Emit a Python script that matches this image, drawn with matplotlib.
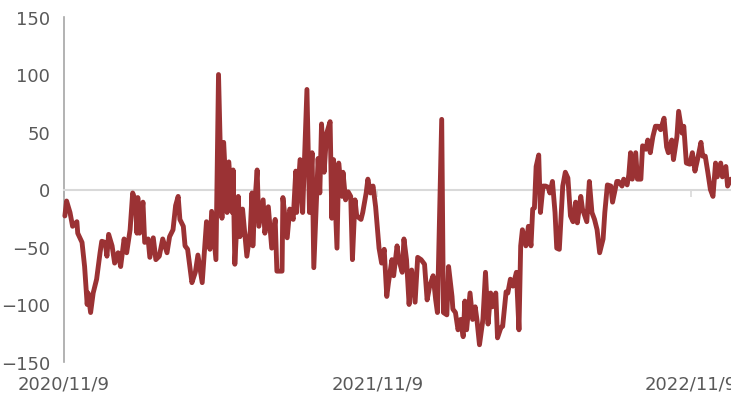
import matplotlib
matplotlib.use("Agg")
import matplotlib.pyplot as plt
import pandas as pd

# days since 2020/11/9 and the series value
DAYS = [
    1, 3, 7, 10, 15, 16, 21, 24, 27, 28, 31, 34, 38, 42, 44, 48, 50, 52, 56, 59,
    63, 66, 70, 73, 77, 80, 83, 85, 86, 88, 92, 94, 98, 100, 104, 107, 111, 115, 120, 123,
    127, 130, 133, 135, 139, 141, 144, 149, 153, 156, 161, 166, 170, 172, 177, 180, 184, 186, 190, 192,
    196, 197, 199, 203, 205, 208, 213, 217, 219, 220, 222, 225, 227, 232, 234, 238, 242, 246, 248, 254,
    255, 260, 263, 267, 270, 271, 275, 278, 283, 286, 289, 291, 296, 298, 300, 303, 306, 310, 312, 314,
    318, 320, 324, 325, 328, 331, 334, 336, 339, 341, 346, 348, 352, 354, 357, 360, 363, 367, 370, 373,
    376, 378, 382, 384, 388, 390, 394, 396, 399, 402, 405, 409, 412, 416, 420, 423, 426, 430, 433, 435,
    440, 442, 446, 448, 452, 453, 456, 459, 462, 465, 467, 469, 473, 476, 479, 481, 484, 488, 491, 494,
    497, 499, 503, 505, 509, 511, 515, 517, 520, 523, 527, 530, 532, 534, 538, 541, 544, 546, 548, 550,
    553, 555, 558, 561, 564, 566, 569, 572, 574, 577, 581, 584, 587, 590, 593, 596, 598, 602, 604, 609,
    612, 615, 618, 621, 624, 628, 630, 633, 637, 639, 644, 646, 650, 652, 656, 658, 660, 662, 666, 668,
    672, 674, 678, 680, 683, 686, 689, 692, 695, 699, 702, 704, 708, 710, 714, 716, 720, 722, 725, 729,
    732, 735, 738, 742, 744, 747, 750, 753, 756, 759, 761, 765, 767, 771, 773, 777,
]
VALUES = [
    -23, -10, -20, -32, -28, -38, -46, -67, -100, -90, -107, -90, -78, -55, -45, -46, -58, -39, -49, -64,
    -55, -67, -43, -55, -35, -3, -9, -38, -7, -38, -11, -46, -43, -59, -42, -61, -58, -43, -55, -41,
    -35, -14, -6, -26, -32, -49, -52, -81, -72, -57, -81, -28, -52, -19, -61, 100, -25, 41, -20, 24,
    -20, 17, -65, -6, -41, -17, -58, -36, -3, -49, -15, 17, -32, -9, -38, -15, -51, -26, -71, -71,
    -7, -42, -17, -26, 16, -20, 26, -20, 87, -20, 32, -68, 27, -3, 57, 15, 49, 59, -25, 26,
    -51, 23, -6, 15, -9, -2, -6, -61, -9, -23, -26, -20, -3, 9, -3, 3, -15, -51, -64, -52,
    -93, -81, -61, -75, -49, -61, -72, -43, -61, -100, -70, -98, -59, -61, -65, -96, -84, -75, -96, -107,
    61, -107, -109, -67, -93, -104, -107, -122, -113, -128, -97, -122, -90, -113, -102, -113, -135, -113, -72, -117,
    -90, -102, -90, -129, -120, -119, -89, -90, -78, -84, -72, -122, -49, -35, -49, -32, -49, -17, -16, 20,
    30, -20, 3, 3, 2, -3, 7, -20, -51, -52, 3, 15, 10, -23, -28, -11, -29, -6, -17, -28,
    7, -20, -26, -35, -55, -43, -20, 4, 3, -11, 7, 7, 3, 9, 4, 13, 32, 9, 32, 9,
    9, 38, 35, 43, 32, 46, 55, 55, 52, 62, 37, 32, 43, 26, 46, 68, 49, 55, 23, 22,
    32, 16, 26, 41, 29, 29, 15, 0, -6, 23, 11, 23, 11, 20, 3, 9,
]

START = pd.Timestamp("2020-11-09")
END_DAY = 777
TICK_DATES = ["2020-11-09", "2021-11-09", "2022-11-09"]
TICK_LABELS = ["2020/11/9", "2021/11/9", "2022/11/9"]
Y_TICKS = [-150, -100, -50, 0, 50, 100, 150]

LINE_COLOR = "#9B3234"
TEXT_COLOR = "#595959"

dates = START + pd.to_timedelta(DAYS, unit="D")

fig = plt.figure(figsize=(7.31, 4.10), dpi=100)
ax = fig.add_axes([64 / 731, 47 / 410, 1 - 64 / 731, 345 / 410])

ax.plot(dates, VALUES, color=LINE_COLOR, lw=3.5, solid_joinstyle="round",
        solid_capstyle="round", clip_on=False, zorder=3)

ax.set_xlim(START, START + pd.Timedelta(days=END_DAY))
ax.set_ylim(-150, 150)
ax.set_yticks(Y_TICKS)
ax.tick_params(axis="y", length=0, pad=10, labelsize=13, labelcolor=TEXT_COLOR)

for side in ["top", "right"]:
    ax.spines[side].set_visible(False)
ax.spines["left"].set_color("#A6A6A6")
ax.spines["left"].set_linewidth(1.2)
ax.spines["bottom"].set_position(("data", 0))
ax.spines["bottom"].set_color("#D9D9D9")
ax.spines["bottom"].set_linewidth(1.5)

tick_dates = pd.to_datetime(TICK_DATES)
ax.set_xticks(tick_dates)
ax.tick_params(axis="x", length=5, width=1.2, color="#D9D9D9", labelbottom=False)

sec = ax.secondary_xaxis("bottom")
sec.set_xticks(tick_dates)
sec.set_xticklabels(TICK_LABELS)
sec.spines["bottom"].set_visible(False)
sec.tick_params(length=0, pad=9, labelsize=13, labelcolor=TEXT_COLOR)

fig.savefig("out.png", dpi=100)
